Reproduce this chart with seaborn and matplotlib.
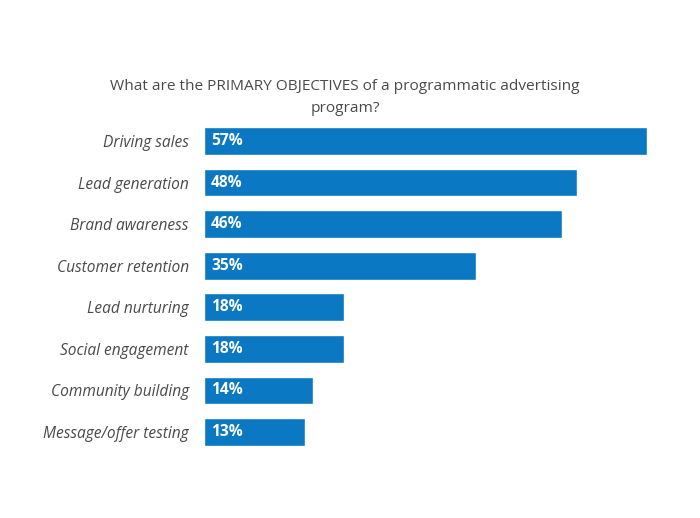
import matplotlib
matplotlib.use("Agg")
import matplotlib.pyplot as plt
import seaborn as sns
import pandas as pd

# survey answers, as shown in the chart
objectives = ["Driving sales", "Lead generation", "Brand awareness", "Customer retention",
              "Lead nurturing", "Social engagement", "Community building", "Message/offer testing"]
shares = [57, 48, 46, 35, 18, 18, 14, 13]
title = "What are the PRIMARY OBJECTIVES of a programmatic advertising\nprogram?"

BAR_COLOR = "#0a78c2"
TEXT_COLOR = "#4a4a4a"

sns.set_theme(style="white")
plt.rcParams['font.family'] = ['Open Sans', 'DejaVu Sans']

df = pd.DataFrame({"objective": objectives, "share": shares})

fig = plt.figure(figsize=(7, 5.18), dpi=100)
ax = fig.add_axes([204 / 700, 1 - 446 / 518, (647 - 204) / 700, (446 - 127) / 518])

width = 0.67
sns.barplot(data=df, x="share", y="objective", color=BAR_COLOR, saturation=1,
            width=width, ax=ax)

ax.set_xlim(0, 57)
ax.set_ylim(len(objectives) - 1 + width / 2, -width / 2)
ax.set_xlabel("")
ax.set_ylabel("")
ax.set_xticks([])
ax.tick_params(axis="y", length=0, pad=11)
for lbl in ax.get_yticklabels():
    lbl.set_fontstyle("italic")
    lbl.set_fontsize(11.2)
    lbl.set_color(TEXT_COLOR)
sns.despine(ax=ax, left=True, bottom=True, top=True, right=True)

for i, v in enumerate(shares):
    ax.text(0.9, i, f"{v}%", color="white", fontweight="bold", fontsize=11.2,
            va="center", ha="left")

fig.text(345 / 700, 1 - 97.5 / 518, title, ha="center", va="center",
         fontsize=11.1, color=TEXT_COLOR, linespacing=1.55)

fig.savefig("out.png", dpi=100, facecolor="white")
